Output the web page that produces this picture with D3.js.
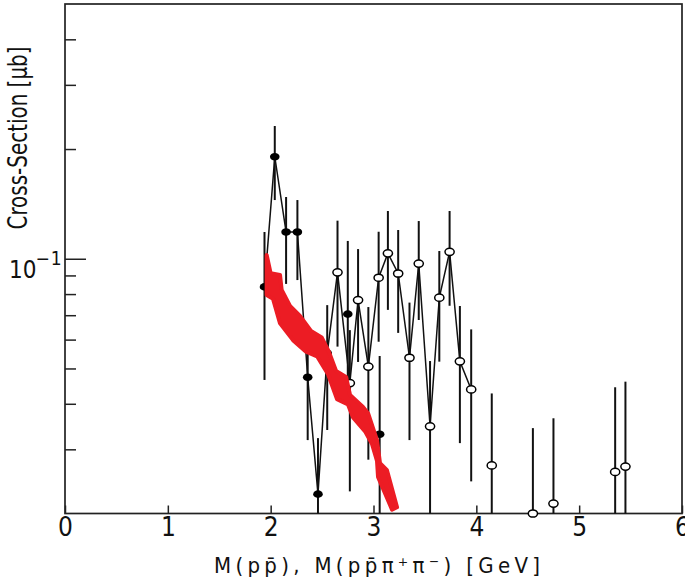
<!DOCTYPE html>
<html>
<head>
<meta charset="utf-8">
<script src="https://cdn.jsdelivr.net/npm/d3@7"></script>
<style>
  body { margin: 0; background: #fff; }
  svg { display: block; }
</style>
</head>
<body>
<div id="graphe"></div>
<script>
// points pleins : M(p pbar)
var pleinX  = [1.94, 2.04, 2.15, 2.26, 2.36, 2.46, 2.55, 2.75, 3.06];
var pleinY  = [0.0837, 0.1905, 0.1184, 0.1184, 0.0473, 0.0226, 0.0551, 0.0705, 0.0330];
var pleinBas  = [0.0465, 0.1449, 0.0853, 0.0874, 0.0318, 0.0200, 0.0339, 0.0450, 0.0200];
var pleinHaut = [0.1184, 0.2313, 0.1477, 0.1449, 0.0573, 0.0322, 0.0746, 0.1119, 0.0541];

// points vides : M(p pbar pi+ pi-)
var videX = [2.65, 2.77, 2.85, 2.95, 3.05, 3.14, 3.24, 3.35, 3.44, 3.55, 3.64, 3.74, 3.84, 3.95,
             4.15, 4.55, 4.75, 5.35, 5.45];
var videY = [0.0918, 0.0456, 0.0770, 0.0506, 0.0887, 0.1035, 0.0911, 0.0535, 0.0970, 0.0347,
             0.0782, 0.1045, 0.0523, 0.0438, 0.0271, 0.0200, 0.0213, 0.0260, 0.0269];
var videBas = [0.0574, 0.0230, 0.0521, 0.0281, 0.0592, 0.0724, 0.0626, 0.0318, 0.0679, 0.0200,
               0.0522, 0.0743, 0.0312, 0.0245, 0.0200, 0.0200, 0.0200, 0.0200, 0.0200];
var videHaut = [0.1272, 0.0637, 0.1063, 0.0737, 0.1186, 0.1352, 0.1199, 0.0758, 0.1269, 0.0524,
                0.1050, 0.1352, 0.0742, 0.0640, 0.0427, 0.0343, 0.0365, 0.0444, 0.0460];

// nombre de points relies par la ligne (pleins puis vides)
var nbPleinRelies = 7;
var nbVideRelies = 14;

// bande rouge : bord haut et bord bas
var bandeHautX = [1.961, 2.000, 2.091, 2.107, 2.188, 2.285, 2.392, 2.496, 2.567, 2.636, 2.733,
                  2.772, 2.898, 2.947, 3.034, 3.063, 3.131, 3.229];
var bandeHautY = [0.1024, 0.0912, 0.0903, 0.0821, 0.0742, 0.0697, 0.0634, 0.0608, 0.0555, 0.0492,
                  0.0474, 0.0423, 0.0392, 0.0377, 0.0318, 0.0275, 0.0263, 0.0208];
var bandeBasX = [1.961, 2.023, 2.091, 2.217, 2.344, 2.451, 2.558, 2.645, 2.752, 2.801, 2.918,
                 2.986, 3.034, 3.044, 3.093, 3.180];
var bandeBasY = [0.0795, 0.0776, 0.0665, 0.0598, 0.0556, 0.0540, 0.0482, 0.0412, 0.0398, 0.0367,
                 0.0336, 0.0310, 0.0279, 0.0252, 0.0234, 0.0205];

// graduations
var ticksX = [0, 1, 2, 3, 4, 5, 6];
var ticksYpetits = [0.03, 0.04, 0.05, 0.06, 0.07, 0.08, 0.09, 0.2, 0.3, 0.4];

var W = 685, H = 579;
var svg = d3.select("#graphe").append("svg").attr("width", W).attr("height", H);

var x = d3.scaleLinear().domain([0, 6]).range([65, 682]);
var y = d3.scaleLog().domain([0.02, 0.5]).range([513.5, 4]);

var police = "'Liberation Sans Narrow', 'DejaVu Sans Condensed', 'Liberation Sans', sans-serif";

// axe du bas (graduations vers l'interieur)
var axeX = svg.append("g")
  .attr("transform", "translate(0," + y(0.02) + ")")
  .call(d3.axisBottom(x).tickValues(ticksX).tickFormat(d3.format("d"))
        .tickSizeInner(-8).tickSizeOuter(0).tickPadding(4));
axeX.select(".domain").remove();
axeX.selectAll("line").attr("stroke", "#222").attr("stroke-width", 1.5);
axeX.selectAll("text").attr("font-family", police).attr("font-size", 26).attr("fill", "#111");

// axe de gauche : petites graduations
var axeY = svg.append("g")
  .attr("transform", "translate(" + x(0) + ",0)")
  .call(d3.axisLeft(y).tickValues(ticksYpetits).tickFormat("").tickSizeInner(-11).tickSizeOuter(0));
axeY.select(".domain").remove();
axeY.selectAll("line").attr("stroke", "#222").attr("stroke-width", 1.5);

// grande graduation 10^-1
var axeY2 = svg.append("g")
  .attr("transform", "translate(" + x(0) + ",0)")
  .call(d3.axisLeft(y).tickValues([0.1]).tickFormat("").tickSizeInner(-21).tickSizeOuter(0));
axeY2.select(".domain").remove();
axeY2.selectAll("line").attr("stroke", "#222").attr("stroke-width", 1.5);

var lab = svg.append("text")
  .attr("x", 9).attr("y", y(0.1) + 19)
  .attr("font-family", police).attr("font-size", 24).attr("fill", "#111");
lab.append("tspan").text("10");
lab.append("tspan").attr("dx", -1).attr("dy", -13).attr("font-size", 19).text("\u2212");
lab.append("tspan").attr("dx", 1).attr("font-size", 19).text("1");

// cadre
svg.append("rect")
  .attr("x", x(0)).attr("y", y(0.5))
  .attr("width", x(6) - x(0)).attr("height", y(0.02) - y(0.5))
  .attr("fill", "none").attr("stroke", "#222").attr("stroke-width", 1.7);

// titres des axes
svg.append("text")
  .attr("transform", "translate(27,138) rotate(-90)")
  .attr("text-anchor", "middle")
  .attr("font-family", police).attr("font-size", 26).attr("fill", "#111")
  .attr("textLength", 183).attr("lengthAdjust", "spacingAndGlyphs")
  .text("Cross-Section [\u03bcb]");

svg.append("text")
  .attr("x", 214).attr("y", 573)
  .attr("font-family", police).attr("font-size", 22).attr("fill", "#111")
  .attr("textLength", 326).attr("lengthAdjust", "spacing")
  .text("M(pp\u0304),  M(pp\u0304\u03c0\u207a\u03c0\u207b)  [GeV]");

// barres d'erreur
function barres(xs, bas, haut)
{
  svg.append("g").selectAll("line").data(xs).enter().append("line")
    .attr("x1", function(d) { return x(d); })
    .attr("x2", function(d) { return x(d); })
    .attr("y1", function(d, i) { return y(bas[i]); })
    .attr("y2", function(d, i) { return y(haut[i]); })
    .attr("stroke", "#111").attr("stroke-width", 2);
}
barres(pleinX, pleinBas, pleinHaut);
barres(videX, videBas, videHaut);

// ligne qui relie les points
var chaine = [];
for (let i = 0; i < nbPleinRelies; i++) chaine.push([pleinX[i], pleinY[i]]);
for (let i = 0; i < nbVideRelies; i++) chaine.push([videX[i], videY[i]]);

svg.append("path")
  .attr("d", d3.line().x(function(d) { return x(d[0]); }).y(function(d) { return y(d[1]); })(chaine))
  .attr("fill", "none").attr("stroke", "#111").attr("stroke-width", 1.5);

// marqueurs
svg.append("g").selectAll("ellipse").data(pleinX).enter().append("ellipse")
  .attr("cx", function(d) { return x(d); })
  .attr("cy", function(d, i) { return y(pleinY[i]); })
  .attr("rx", 4.8).attr("ry", 3.8)
  .attr("fill", "#000");

svg.append("g").selectAll("ellipse").data(videX).enter().append("ellipse")
  .attr("cx", function(d) { return x(d); })
  .attr("cy", function(d, i) { return y(videY[i]); })
  .attr("rx", 4.6).attr("ry", 3.6)
  .attr("fill", "#fff").attr("stroke", "#000").attr("stroke-width", 1.5);

// bande rouge (par dessus)
var contour = [];
for (let i = 0; i < bandeHautX.length; i++) contour.push([bandeHautX[i], bandeHautY[i]]);
for (let i = bandeBasX.length - 1; i >= 0; i--) contour.push([bandeBasX[i], bandeBasY[i]]);

svg.append("path")
  .attr("d", d3.line().x(function(d) { return x(d[0]); }).y(function(d) { return y(d[1]); })(contour) + "Z")
  .attr("fill", "#ec1c24").attr("stroke", "#ec1c24")
  .attr("stroke-width", 4).attr("stroke-linejoin", "round");
</script>
</body>
</html>
